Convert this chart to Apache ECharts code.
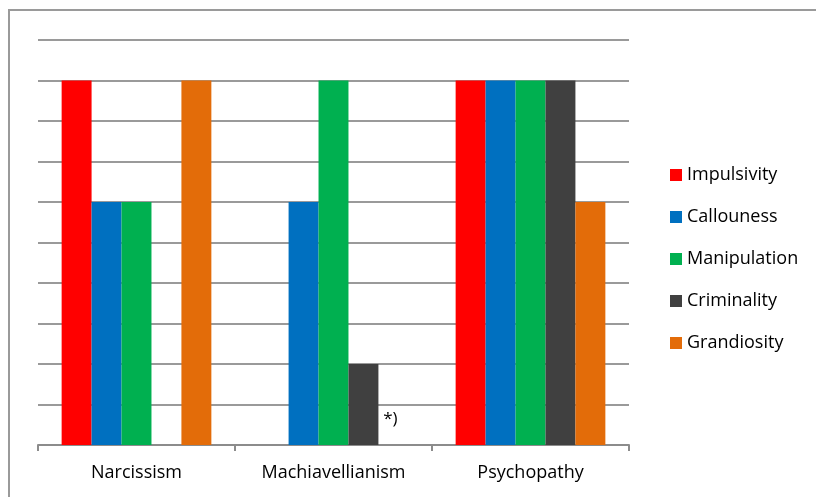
<!DOCTYPE html>
<html>
<head>
<meta charset="utf-8">
<script src="https://cdn.jsdelivr.net/npm/echarts@6/dist/echarts.min.js"></script>
<style>
  html, body { margin: 0; padding: 0; background: #fff; }
  #chart { width: 816px; height: 497px; }
</style>
</head>
<body>
<div id="chart"></div>
<script>
// Dark-triad dimensions and the traits scored for each
const categories = ['Narcissism', 'Machiavellianism', 'Psychopathy'];
const impulsivity = [9, 0, 9];
const callouness = [6, 6, 9];
const manipulation = [6, 9, 9];
const criminality = [0, 2, 9];
const grandiosity = [9, 0, 6];
const footnoteLabel = '*)';

const FONT = '"Open Sans", "Liberation Sans", sans-serif';

function barSeries(name, data, color) {
  return {
    name: name,
    type: 'bar',
    data: data,
    barGap: 0,
    barCategoryGap: '24%',
    itemStyle: { color: color },
    emphasis: { disabled: true }
  };
}

const grandSeries = barSeries('Grandiosity', grandiosity.map((v, i) => {
  // footnote marker shown on the empty Machiavellianism bar
  if (i === 1) {
    return {
      value: v,
      label: {
        show: true,
        formatter: footnoteLabel,
        position: 'top',
        distance: 17,
        offset: [-3, 0],
        fontFamily: FONT,
        fontSize: 17,
        color: '#000'
      }
    };
  }
  return v;
}), '#E36C09');

const chart = echarts.init(document.getElementById('chart'), null, { renderer: 'canvas' });
chart.setOption({
  animation: false,
  backgroundColor: '#fff',
  graphic: [{
    type: 'rect',
    shape: { x: 9, y: 10, width: 900, height: 600 },
    style: { fill: 'none', stroke: '#9a9a9a', lineWidth: 2 },
    silent: true
  }],
  grid: { left: 38, right: 187, top: 40, bottom: 52 },
  legend: {
    orient: 'vertical',
    left: 665,
    top: 158,
    itemWidth: 12,
    itemHeight: 12,
    itemGap: 18,
    icon: 'rect',
    textStyle: { fontFamily: FONT, fontSize: 18, color: '#000', lineHeight: 24 },
    data: ['Impulsivity', 'Callouness', 'Manipulation', 'Criminality', 'Grandiosity']
  },
  xAxis: {
    type: 'category',
    data: categories,
    axisLine: { lineStyle: { color: '#8c8c8c', width: 2 } },
    axisTick: { show: true, length: 6, lineStyle: { color: '#8c8c8c', width: 2 } },
    axisLabel: { fontFamily: FONT, fontSize: 18, color: '#000', margin: 19 }
  },
  yAxis: {
    type: 'value',
    min: 0,
    max: 10,
    interval: 1,
    axisLine: { show: false },
    axisTick: { show: false },
    axisLabel: { show: false },
    splitLine: { lineStyle: { color: '#9a9a9a', width: 2 } }
  },
  series: [
    barSeries('Impulsivity', impulsivity, '#FF0000'),
    barSeries('Callouness', callouness, '#0070C0'),
    barSeries('Manipulation', manipulation, '#00B050'),
    barSeries('Criminality', criminality, '#404040'),
    grandSeries
  ]
});
</script>
</body>
</html>
